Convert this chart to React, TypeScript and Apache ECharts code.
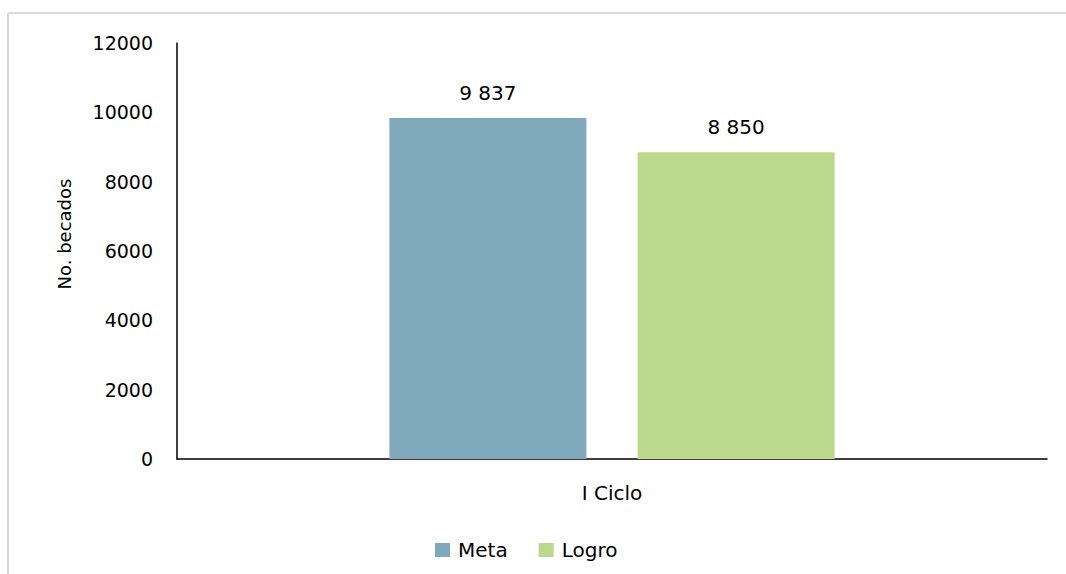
import React, { useEffect, useRef } from "react";
import * as echarts from "echarts";

const categories = ["I Ciclo"];
const seriesNames = ["Meta", "Logro"];
const metaValues = [9837];
const logroValues = [8850];
const yTicks = { min: 0, max: 12000, interval: 2000 };
const yAxisTitle = "No. becados";
const colors = ["#80A9BB", "#BAD98A"];

const fmt = (v: number) => {
  const s = String(Math.round(v));
  return s.replace(/\B(?=(\d{3})+(?!\d))/g, " ");
};

export default function App() {
  const ref = useRef<HTMLDivElement>(null);
  useEffect(() => {
    if (!ref.current) return;
    const chart = echarts.init(ref.current, undefined, { renderer: "svg" });
    const font = "DejaVu Sans";
    const labelCommon = {
      show: true,
      position: "top" as const,
      distance: 15,
      color: "#000",
      fontFamily: font,
      fontSize: 20,
      formatter: (p: any) => fmt(p.value),
    };
    chart.setOption({
      animation: false,
      backgroundColor: "#fff",
      graphic: [
        {
          type: "line",
          shape: { x1: 8, y1: 13, x2: 1066, y2: 13 },
          style: { stroke: "#d9d9d9", lineWidth: 2 },
          silent: true,
        },
        {
          type: "line",
          shape: { x1: 8, y1: 13, x2: 8, y2: 574 },
          style: { stroke: "#d9d9d9", lineWidth: 2 },
          silent: true,
        },
        {
          type: "text",
          x: 64,
          y: 234,
          rotation: Math.PI / 2,
          style: {
            text: yAxisTitle,
            fill: "#000",
            fontFamily: font,
            fontSize: 18,
            align: "center",
            verticalAlign: "middle",
          },
        },
      ],
      grid: { left: 177, right: 19, top: 43, bottom: 115, containLabel: false },
      legend: {
        data: seriesNames,
        left: 430,
        top: 535,
        itemWidth: 15,
        itemHeight: 14,
        itemGap: 31,
        icon: "rect",
        textStyle: { fontFamily: font, fontSize: 20, color: "#000", padding: [0, 0, 0, 3] },
      },
      xAxis: {
        type: "category",
        data: categories,
        axisLine: { lineStyle: { color: "#000", width: 1.5 } },
        axisTick: { show: false },
        axisLabel: { color: "#000", fontFamily: font, fontSize: 20, margin: 24 },
      },
      yAxis: {
        type: "value",
        min: yTicks.min,
        max: yTicks.max,
        interval: yTicks.interval,
        axisLine: { show: true, lineStyle: { color: "#000", width: 1.5 } },
        axisTick: { show: false },
        splitLine: { show: false },
        axisLabel: {
          color: "#000",
          fontFamily: font,
          fontSize: 19,
          margin: 24,
          formatter: (v: number) => String(v),
        },
      },
      series: [
        {
          name: seriesNames[0],
          type: "bar",
          data: metaValues,
          barWidth: 197,
          barGap: "26%",
          itemStyle: { color: colors[0] },
          label: labelCommon,
        },
        {
          name: seriesNames[1],
          type: "bar",
          data: logroValues,
          barWidth: 197,
          itemStyle: { color: colors[1] },
          label: labelCommon,
        },
      ],
    });
    return () => chart.dispose();
  }, []);
  return (
    <div
      ref={ref}
      style={{ position: "absolute", left: 0, top: 0, width: 1066, height: 574 }}
    />
  );
}
